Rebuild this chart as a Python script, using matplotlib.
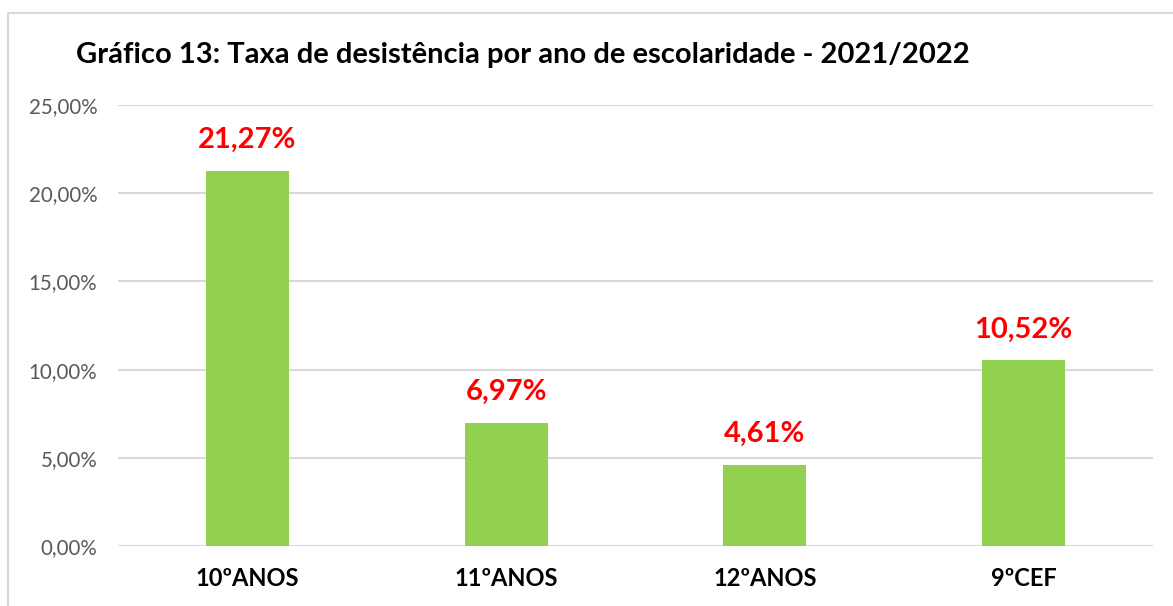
import matplotlib
matplotlib.use("Agg")
import matplotlib.pyplot as plt
from matplotlib.lines import Line2D
from matplotlib.ticker import FuncFormatter

categorias = ["10ºANOS", "11ºANOS", "12ºANOS", "9ºCEF"]
taxas = [21.27, 6.97, 4.61, 10.52]
rotulos = ["21,27%", "6,97%", "4,61%", "10,52%"]
yticks = [0, 5, 10, 15, 20, 25]

plt.rcParams["font.family"] = ["Lato", "DejaVu Sans"]

W, H = 1173, 606
fig = plt.figure(figsize=(W / 100, H / 100), dpi=100)
ax = fig.add_axes([118 / W, 60 / H, (1153 - 118) / W, (546 - 105) / H])

x = range(len(categorias))
ax.bar(x, taxas, width=0.32, color="#92D050", zorder=3)
for xi, v, lab in zip(x, taxas, rotulos):
    ax.annotate(lab, (xi, v), xytext=(0, 13), textcoords="offset points",
                ha="center", va="bottom", color="#FF0000",
                fontsize=21, fontweight="bold")

ax.set_xlim(-0.5, len(categorias) - 0.5)
ax.set_ylim(0, 25)
ax.set_yticks(yticks)
ax.yaxis.set_major_formatter(FuncFormatter(lambda v, p: f"{v:.2f}%".replace(".", ",")))
ax.set_xticks(list(x))
ax.set_xticklabels(categorias, fontsize=17, fontweight="bold", color="black")
ax.tick_params(axis="y", labelsize=14.8, labelcolor="#595959", length=0, pad=15)
ax.tick_params(axis="x", length=0, pad=15)
ax.grid(axis="y", color="#D9D9D9", linewidth=1.5, zorder=0)
for s in ax.spines.values():
    s.set_visible(False)

fig.text(76 / W, 1 - 55 / H, "Gráfico 13: Taxa de desistência por ano de escolaridade - 2021/2022",
         fontsize=21, fontweight="bold", ha="left", va="center")

# moldura do gráfico (só esquerda e topo visíveis)
fig.add_artist(Line2D([8 / W, 8 / W], [0, 1 - 13 / H], transform=fig.transFigure,
                      color="#D9D9D9", linewidth=1.5))
fig.add_artist(Line2D([8 / W, 1], [1 - 13 / H, 1 - 13 / H], transform=fig.transFigure,
                      color="#D9D9D9", linewidth=1.5))

fig.savefig("out.png", dpi=100)
